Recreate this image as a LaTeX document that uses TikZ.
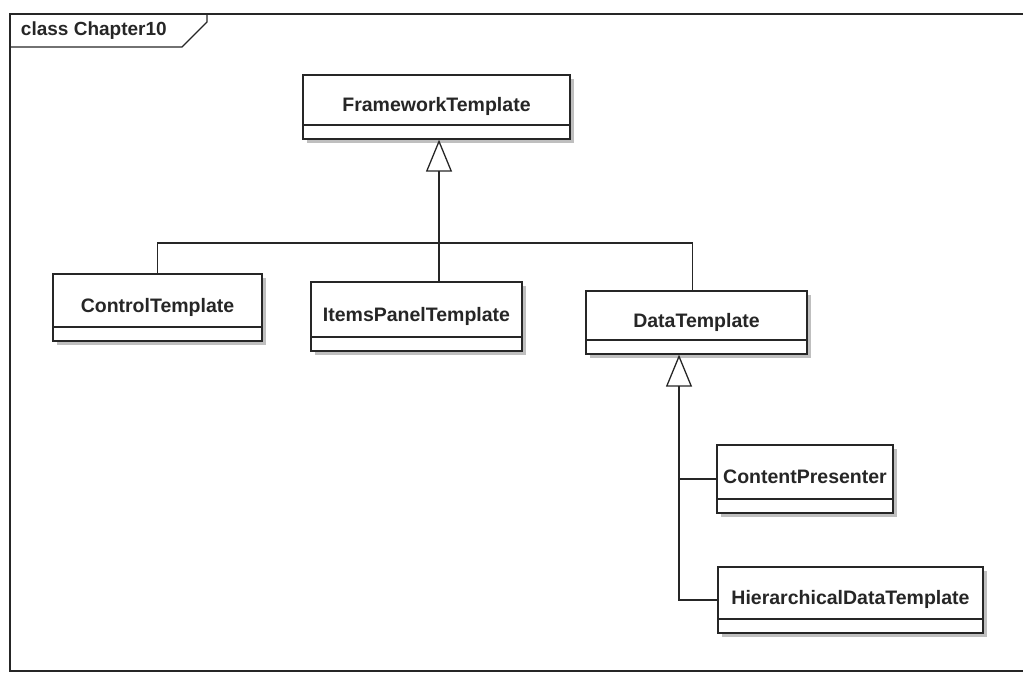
\documentclass[tikz,border=0pt]{standalone}
\usepackage{fontspec}
\setmainfont{Liberation Sans}
\usetikzlibrary{calc,arrows.meta,shadows}

\begin{document}
\begin{tikzpicture}[x=1pt,y=-1pt,line width=1.3pt,black!85,
    cls/.style={draw,fill=white,inner xsep=3pt,text height=14pt,text depth=5pt,
      font=\fontsize{19.5}{23}\selectfont\bfseries,
      drop shadow={shadow xshift=4pt,shadow yshift=-4pt,fill=black!50},
      path picture={\draw ([yshift=14pt]path picture bounding box.south west) -- ([yshift=14pt]path picture bounding box.south east);}},
    gen/.style={-{Triangle[open,length=32pt,width=26pt]}}]
  \useasboundingbox (0,0) rectangle (1023,675);
  % frame with its name tab
  \draw (1023,14) -- (10,14) -- (10,671) -- (1023,671);
  \draw (10,47) -- (182,47) -- (207,22) -- (207,14);
  \node[anchor=west,font=\fontsize{19}{22}\selectfont\bfseries](ttl)at(17,31){class Chapter10};
  % classes
  \node[cls,minimum width=267pt,minimum height=64pt](fw)at(436.5,107){FrameworkTemplate};
  \node[cls,minimum width=209pt,minimum height=67pt](ct)at(157.5,307.5){ControlTemplate};
  \node[cls,minimum width=211pt,minimum height=69pt](ip)at(416.5,316.5){ItemsPanelTemplate};
  \node[cls,minimum width=221pt,minimum height=63pt](dt)at(696.5,322.5){DataTemplate};
  \node[cls,minimum width=176pt,minimum height=68pt](cp)at(805,479){ContentPresenter};
  \node[cls,minimum width=265pt,minimum height=66pt](hd)at(850.5,600){HierarchicalDataTemplate};
  % generalizations
  \coordinate(j1)at(439,243);
  \coordinate(j2)at(679,420);
  \draw[gen](j1)--(j1|-fw.south);
  \draw(ct.north)|-(j1)-|([xshift=-4pt]dt.north);
  \draw(j1|-ip.north)--(j1);
  \draw[gen](hd.west)-|(j2|-dt.south);
  \draw(cp.west)--(cp.west-|j2);
\end{tikzpicture}
\end{document}
